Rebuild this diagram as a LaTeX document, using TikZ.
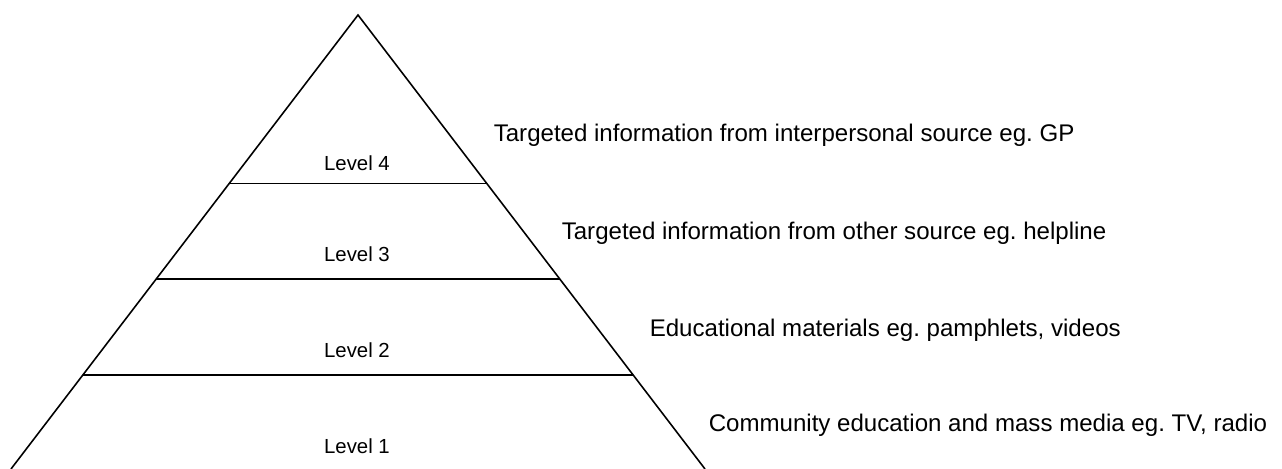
\documentclass[tikz,border=0pt]{standalone}
\usepackage{fontspec}
\setmainfont{Liberation Sans}
\usetikzlibrary{calc}
\frenchspacing
\begin{document}
\begin{tikzpicture}[x=0.02cm,y=-0.02cm,line width=0.9pt,
  lvl/.style={anchor=base,inner sep=0pt,font=\fontsize{11.6}{13}\selectfont},
  desc/.style={anchor=base west,inner sep=0pt,font=\fontsize{13.7}{16}\selectfont}]
\useasboundingbox (0,0) rectangle (1282,469);
\coordinate (top) at (358,15);
\coordinate (bl) at (11,469);
\coordinate (br) at (705,469);
\draw (bl) -- (top) -- (br);
% Tier boundaries
\foreach \f in {0.3707,0.5815,0.793}
  \draw ($(top)!\f!(bl)$) -- ($(top)!\f!(br)$);
\node[lvl] (l4) at (357,171) {Level 4};
\node[lvl] (l3) at (357,262) {Level 3};
\node[lvl] (l2) at (357,358) {Level 2};
\node[lvl] (l1) at (357,454) {Level 1};
\node[desc] (d4) at (493,142) {Targeted information from interpersonal source eg. GP};
\node[desc] (d3) at (561,240) {Targeted information from other source eg. helpline};
\node[desc] (d2) at (649,337) {Educational materials eg. pamphlets, videos};
\node[desc] (d1) at (708,432) {Community education and mass media eg. TV, radio};
\end{tikzpicture}
\end{document}
